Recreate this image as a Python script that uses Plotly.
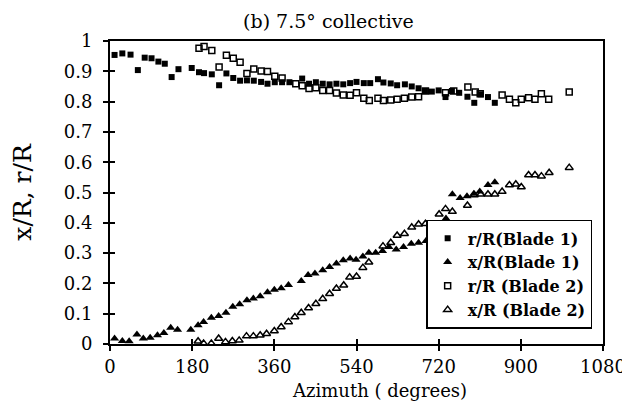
import plotly.graph_objects as go

# Blade 1, r/R (filled squares)
az_r1 = [10, 27, 45, 61, 76, 91, 106, 120, 135, 150, 179, 195, 206, 223, 239, 255, 270, 285,
         300, 315, 331, 345, 361, 377, 393, 421, 436, 451, 466, 481, 496, 511, 526, 540, 556,
         570, 587, 599, 615, 629, 646, 661, 676, 690, 705, 720, 735, 749, 765, 783, 798, 812,
         828, 843]
r1 = [0.954, 0.959, 0.955, 0.904, 0.945, 0.943, 0.932, 0.925, 0.881, 0.907, 0.911, 0.897,
      0.894, 0.890, 0.854, 0.893, 0.878, 0.869, 0.870, 0.869, 0.865, 0.859, 0.864, 0.864,
      0.864, 0.876, 0.859, 0.864, 0.859, 0.857, 0.859, 0.857, 0.861, 0.865, 0.861, 0.861,
      0.874, 0.863, 0.860, 0.854, 0.857, 0.850, 0.844, 0.835, 0.833, 0.837, 0.815, 0.835,
      0.829, 0.816, 0.796, 0.824, 0.815, 0.796]

# Blade 1, x/R (filled triangles)
az_x1 = [10, 27, 42, 59, 73, 88, 104, 118, 133, 148, 177, 193, 205, 222, 238, 254, 269, 284,
         300, 314, 329, 345, 360, 375, 391, 419, 434, 449, 466, 481, 496, 511, 526, 539, 554,
         567, 582, 597, 611, 627, 643, 660, 676, 692, 705, 720, 736, 750, 767, 782, 797, 810,
         828, 843]
x1 = [0.018, 0.010, 0.009, 0.031, 0.018, 0.021, 0.029, 0.036, 0.054, 0.047, 0.047, 0.062,
      0.073, 0.087, 0.092, 0.103, 0.123, 0.131, 0.144, 0.150, 0.158, 0.171, 0.179, 0.184,
      0.195, 0.208, 0.228, 0.233, 0.243, 0.254, 0.266, 0.276, 0.282, 0.278, 0.289, 0.301,
      0.301, 0.307, 0.320, 0.312, 0.320, 0.331, 0.334, 0.340, 0.393, 0.376, 0.414, 0.494,
      0.482, 0.488, 0.496, 0.503, 0.525, 0.534]

# Blade 2, r/R (open squares)
az_r2 = [195, 206, 223, 239, 255, 270, 285, 300, 315, 331, 345, 361, 377, 407, 421, 436, 451,
         466, 481, 496, 511, 526, 540, 556, 568, 587, 599, 615, 629, 645, 661, 676, 691, 735,
         753, 784, 800, 811, 859, 875, 889, 901, 917, 931, 945, 961, 1006]
r2 = [0.976, 0.982, 0.969, 0.914, 0.953, 0.943, 0.930, 0.893, 0.908, 0.901, 0.899, 0.884,
      0.878, 0.859, 0.852, 0.843, 0.846, 0.837, 0.837, 0.828, 0.822, 0.821, 0.829, 0.811,
      0.804, 0.811, 0.804, 0.805, 0.808, 0.811, 0.815, 0.816, 0.835, 0.829, 0.835, 0.848,
      0.832, 0.826, 0.822, 0.808, 0.796, 0.808, 0.813, 0.808, 0.826, 0.808, 0.832]

# Blade 2, x/R (open triangles)
az_x2 = [193, 205, 222, 238, 253, 268, 283, 299, 314, 329, 343, 360, 375, 391, 405, 419, 435,
         451, 466, 481, 496, 512, 525, 540, 554, 567, 598, 615, 629, 645, 661, 676, 691, 706,
         721, 735, 750, 783, 798, 812, 828, 843, 859, 875, 889, 901, 917, 931, 945, 962, 1006]
x2 = [0.009, 0.002, 0.002, 0.018, 0.007, 0.010, 0.012, 0.026, 0.026, 0.029, 0.034, 0.043,
      0.056, 0.073, 0.089, 0.103, 0.119, 0.133, 0.149, 0.166, 0.183, 0.194, 0.220, 0.223,
      0.252, 0.270, 0.323, 0.334, 0.358, 0.364, 0.385, 0.395, 0.397, 0.389, 0.428, 0.446,
      0.437, 0.457, 0.492, 0.494, 0.494, 0.494, 0.503, 0.525, 0.527, 0.518, 0.558, 0.558,
      0.554, 0.565, 0.582]

x_ticks = [0, 180, 360, 540, 720, 900, 1080]
y_ticks = [0, 0.1, 0.2, 0.3, 0.4, 0.5, 0.6, 0.7, 0.8, 0.9, 1]
y_tick_text = ["0", "0.1", "0.2", "0.3", "0.4", "0.5", "0.6", "0.7", "0.8", "0.9", "1"]

FONT = "DejaVu Serif"
BLACK = "black"

fig = go.Figure()
fig.add_trace(go.Scatter(x=az_r1, y=r1, mode="markers", name="r/R(Blade 1)",
                         marker=dict(symbol="square", size=6, color=BLACK)))
fig.add_trace(go.Scatter(x=az_x1, y=x1, mode="markers", name="x/R(Blade 1)",
                         marker=dict(symbol="triangle-up", size=8, color=BLACK)))
fig.add_trace(go.Scatter(x=az_r2, y=r2, mode="markers", name="r/R (Blade 2)",
                         marker=dict(symbol="square-open", size=6, color=BLACK,
                                     line=dict(width=1.5))))
fig.add_trace(go.Scatter(x=az_x2, y=x2, mode="markers", name="x/R (Blade 2)",
                         marker=dict(symbol="triangle-up-open", size=7, color=BLACK,
                                     line=dict(width=1.5))))
# invisible trace for the inner-tick overlay axes
fig.add_trace(go.Scatter(x=[0], y=[0], xaxis="x2", yaxis="y2", mode="markers",
                         marker=dict(opacity=0), showlegend=False, hoverinfo="skip"))

fig.update_layout(
    width=630, height=406,
    margin=dict(l=102, r=30, t=33, b=70),
    paper_bgcolor="white", plot_bgcolor="white",
    font=dict(family=FONT, color=BLACK, size=18),
    title=dict(text="(b) 7.5\u00b0 collective", x=0.443, xref="paper", xanchor="center",
               y=0.968, yref="container", yanchor="middle",
               font=dict(family=FONT, size=19)),
    xaxis=dict(range=[0, 1080], tickvals=x_ticks, showgrid=False, zeroline=False,
               showline=True, linecolor=BLACK, linewidth=2, mirror=True,
               ticks="outside", ticklen=5, tickwidth=1.5, tickcolor=BLACK,
               tickfont=dict(size=18)),
    yaxis=dict(range=[0, 1], tickvals=y_ticks, ticktext=y_tick_text, showgrid=False,
               zeroline=False, showline=True, linecolor=BLACK, linewidth=2, mirror=True,
               ticks="outside", ticklen=5, tickwidth=1.5, tickcolor=BLACK,
               tickfont=dict(size=18), ticklabelstandoff=7,
               title=dict(text="x/R, r/R", standoff=26, font=dict(size=25))),
    xaxis2=dict(overlaying="x", range=[0, 1080], tickvals=x_ticks, showticklabels=False,
                ticks="inside", ticklen=5, tickwidth=1.5, tickcolor=BLACK, showgrid=False,
                zeroline=False, showline=False, side="bottom"),
    yaxis2=dict(overlaying="y", range=[0, 1], tickvals=y_ticks, showticklabels=False,
                ticks="inside", ticklen=5, tickwidth=1.5, tickcolor=BLACK, showgrid=False,
                zeroline=False, showline=False, side="left"),
    legend=dict(x=0.978, xanchor="right", y=0.05, yanchor="bottom",
                bgcolor="white", bordercolor=BLACK, borderwidth=1.5,
                font=dict(family=FONT, size=16, weight="bold"), itemsizing="trace",
                tracegroupgap=0, itemwidth=30),
    annotations=[dict(text="Azimuth ( degrees)", x=590, xref="x", y=-0.155, yref="paper",
                      xanchor="center", yanchor="middle", showarrow=False,
                      font=dict(family=FONT, size=18, color=BLACK))],
    showlegend=True,
)

fig.write_html("out.html")
